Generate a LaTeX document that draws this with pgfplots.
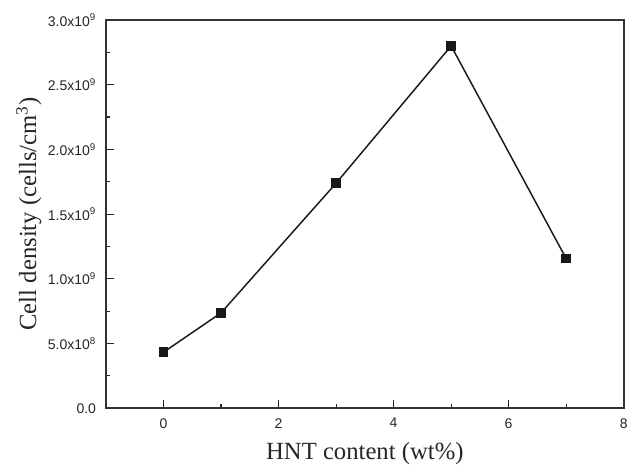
\documentclass[border=0pt]{standalone}
\usepackage{fontspec}
\setmainfont{Liberation Serif}
\setsansfont{Liberation Sans}
\usepackage{pgfplots}
\pgfplotsset{compat=1.18}
\begin{document}
\begin{tikzpicture}
\begin{axis}[
  scale only axis,
  width=388pt, height=291pt,
  xmin=-1, xmax=8, ymin=0, ymax=3e9,
  xtick={0,2,4,6,8}, xticklabels={0,2,4,6,8},
  minor xtick={1,3,5,7},
  ytick={0,0.5e9,1e9,1.5e9,2e9,2.5e9,3e9},
  yticklabels={0.0,5.0x10\textsuperscript{8},1.0x10\textsuperscript{9},1.5x10\textsuperscript{9},2.0x10\textsuperscript{9},2.5x10\textsuperscript{9},3.0x10\textsuperscript{9}},
  minor ytick={0.25e9,0.75e9,1.25e9,1.75e9,2.25e9,2.75e9},
  scaled y ticks=false,
  xtick pos=bottom, ytick pos=left,
  tick align=inside,
  major tick length=6pt, minor tick length=3pt,
  every tick/.style={black!85, line width=0.9pt},
  axis line style={line width=1.3pt, black!80},
  ticklabel style={font=\sffamily\fontsize{10.5}{12}\selectfont, text=black!85},
  xticklabel style={yshift=-4pt},
  yticklabel style={xshift=-4pt},
  xlabel={HNT content (wt\%)},
  ylabel={Cell density (cells/cm\textsuperscript{3})},
  label style={font=\fontsize{18.5}{21}\selectfont, text=black!85},
  xlabel style={yshift=-4pt},
  ylabel style={yshift=-2pt},
  clip=false,
]
\coordinate (O) at (rel axis cs:0,0);
\addplot[black!90, line width=1.1pt, mark=square*, mark size=3pt, mark options={solid, fill=black!90}]
  coordinates {(0,0.433e9) (1,0.737e9) (3,1.739e9) (5,2.80e9) (7,1.157e9)};
\end{axis}
\path ([shift={(-79.5pt,-42.2pt)}]O) -- ([shift={(394pt,306pt)}]O);
\end{tikzpicture}
\end{document}
